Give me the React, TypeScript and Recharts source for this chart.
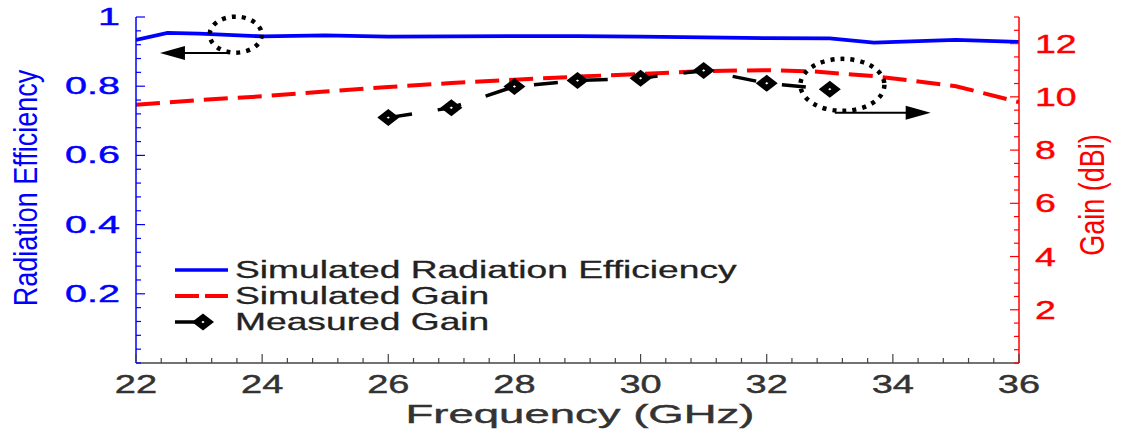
import React from 'react';
import { LineChart, Line, XAxis, YAxis, Legend, ReferenceDot, ReferenceLine } from 'recharts';

// tick labels
const FREQ_TICKS = [22, 24, 26, 28, 30, 32, 34, 36];
const EFF_TICKS = [0.2, 0.4, 0.6, 0.8, 1];
const GAIN_TICKS = [2, 4, 6, 8, 10, 12];

// simulated radiation efficiency (left axis)
const effFreq = [22, 22.5, 23, 24, 25, 26, 27, 28, 29, 30, 31, 32, 33, 33.7, 35, 36];
const effValues = [0.934, 0.954, 0.952, 0.944, 0.947, 0.943, 0.944, 0.945, 0.945, 0.943, 0.941, 0.939, 0.938, 0.926, 0.934, 0.928];

// simulated gain, dBi (right axis)
const simFreq = [22, 23, 24, 25, 26, 27, 28, 29, 30, 31, 32, 32.7, 33.7, 35, 36];
const simGain = [9.7, 9.88, 10.02, 10.2, 10.37, 10.52, 10.64, 10.76, 10.86, 10.97, 11.0, 10.96, 10.78, 10.4, 9.8];

// measured gain, dBi (right axis)
const measFreq = [26, 27, 28, 29, 30, 31, 32, 33];
const measGain = [9.22, 9.59, 10.39, 10.61, 10.7, 10.99, 10.51, 10.29];

const SERIES_NAMES = ['Simulated Radiation Efficiency', 'Simulated Gain', 'Measured Gain'];

const BLUE = '#0000FF';
const RED = '#FF0000';
const AXIS = '#444';
const FONT = '"Liberation Sans", Arial, sans-serif';

const effData = effFreq.map((f, i) => ({ f, v: effValues[i] }));
const simData = simFreq.map((f, i) => ({ f, v: simGain[i] }));
const measData = measFreq.map((f, i) => ({ f, v: measGain[i] }));

const steps = (from: number, to: number, step: number) => {
  const out: number[] = [];
  for (let i = 0; from + i * step <= to + 1e-9; i++) out.push(+(from + i * step).toFixed(3));
  return out;
};
const xTicksAll = steps(22, 36, 0.4);
const effTicksAll = steps(0, 1, 0.04);
const gainTicksAll = steps(0, 13, 0.5);

const isMajor = (list: number[], v: number) => list.some((t) => Math.abs(t - v) < 1e-6);

const BottomTick = (props: any) => {
  const { x, y, payload } = props;
  const major = isMajor(FREQ_TICKS, payload.value);
  return (
    <g>
      <line x1={x} x2={x} y1={y} y2={y - (major ? 9 : 5)} stroke={AXIS} strokeWidth={1.2} />
      {major && (
        <text
          transform={`translate(${x},${y + 30}) scale(1.52,1)`}
          textAnchor="middle"
          fontSize={25}
          fontFamily={FONT}
          fill="#333"
          stroke="#333"
          strokeWidth={0.4}
        >
          {payload.value}
        </text>
      )}
    </g>
  );
};

const TopTick = (props: any) => {
  const { x, y, payload } = props;
  const major = isMajor(FREQ_TICKS, payload.value);
  return <line x1={x} x2={x} y1={y} y2={y + (major ? 9 : 5)} stroke={AXIS} strokeWidth={1.2} />;
};

const LeftTick = (props: any) => {
  const { x, y, payload } = props;
  const major = isMajor(EFF_TICKS, payload.value);
  return (
    <g>
      <line x1={x} x2={x + (major ? 9 : 5)} y1={y} y2={y} stroke={BLUE} strokeWidth={1.2} />
      {major && (
        <text
          transform={`translate(${x - 16},${y + 8}) scale(1.72,1)`}
          textAnchor="end"
          fontSize={23}
          fontFamily={FONT}
          fill={BLUE}
          stroke={BLUE}
          strokeWidth={0.4}
        >
          {payload.value}
        </text>
      )}
    </g>
  );
};

const RightTick = (props: any) => {
  const { x, y, payload } = props;
  const major = isMajor(GAIN_TICKS, payload.value);
  return (
    <g>
      <line x1={x} x2={x - (major ? 9 : 5)} y1={y} y2={y} stroke={RED} strokeWidth={1.2} />
      {major && (
        <text
          transform={`translate(${x + 16},${y + 9}) scale(1.5,1)`}
          textAnchor="start"
          fontSize={25}
          fontFamily={FONT}
          fill={RED}
          stroke={RED}
          strokeWidth={0.4}
        >
          {payload.value}
        </text>
      )}
    </g>
  );
};

const Diamond = ({ cx, cy, w = 11, h = 8.5 }: any) => {
  if (cx == null || cy == null) return null;
  return (
    <g>
      <polygon points={`${cx - w},${cy} ${cx},${cy - h} ${cx + w},${cy} ${cx},${cy + h}`} fill="#000" />
      <polygon points={`${cx - 1.6},${cy} ${cx},${cy - 1.2} ${cx + 1.6},${cy} ${cx},${cy + 1.2}`} fill="#fff" />
    </g>
  );
};

const DottedEllipse = (rx: number, ry: number) => (p: any) => (
  <ellipse
    cx={p.cx}
    cy={p.cy}
    rx={rx}
    ry={ry}
    fill="none"
    stroke="#000"
    strokeWidth={4.5}
    strokeDasharray="4 6"
  />
);

const ArrowHead = (dir: number) => (p: any) => (
  <polygon
    points={`${p.cx},${p.cy} ${p.cx - dir * 25},${p.cy - 7} ${p.cx - dir * 25},${p.cy + 7}`}
    fill="#000"
  />
);

const LegendBox = () => (
  <svg width={620} height={90} style={{ display: 'block' }}>
    {SERIES_NAMES.map((name, i) => {
      const y = 15 + i * 26;
      return (
        <g key={name}>
          {i === 0 && <line x1={25} x2={78} y1={y} y2={y} stroke={BLUE} strokeWidth={3.5} />}
          {i === 1 && (
            <line x1={25} x2={78} y1={y} y2={y} stroke={RED} strokeWidth={4} strokeDasharray="24 6" />
          )}
          {i === 2 && (
            <g>
              <line x1={25} x2={53} y1={y} y2={y} stroke="#000" strokeWidth={3.5} />
              <Diamond cx={53} cy={y} />
            </g>
          )}
          <text
            transform={`translate(85,${y + 8}) scale(1.55,1)`}
            fontSize={24}
            fontFamily={FONT}
            fill="#222"
            stroke="#222"
            strokeWidth={0.3}
          >
            {name}
          </text>
        </g>
      );
    })}
  </svg>
);

export default function App() {
  return (
    <div style={{ position: 'absolute', left: 0, top: 0, width: 1128, height: 435, background: '#fff' }}>
      <LineChart width={1128} height={435} margin={{ top: 17, right: 0, bottom: 0, left: 0 }}>
        <XAxis
          dataKey="f"
          type="number"
          domain={[22, 36]}
          ticks={xTicksAll}
          interval={0}
          height={72}
          tickSize={0}
          tickMargin={0}
          tickLine={false}
          axisLine={{ stroke: AXIS, strokeWidth: 1.5 }}
          tick={(p: any) => <BottomTick {...p} />}
          allowDataOverflow
          label={{
            content: () => (
              <text
                transform="translate(580,423) scale(1.82,1)"
                textAnchor="middle"
                fontSize={25}
                fontFamily={FONT}
                fill="#333"
                stroke="#333"
                strokeWidth={0.4}
              >
                Frequency (GHz)
              </text>
            ),
          }}
        />
        <XAxis
          xAxisId="top"
          dataKey="f"
          type="number"
          orientation="top"
          domain={[22, 36]}
          ticks={xTicksAll}
          interval={0}
          height={0}
          tickSize={0}
          tickMargin={0}
          tickLine={false}
          axisLine={{ stroke: AXIS, strokeWidth: 1.5 }}
          tick={(p: any) => <TopTick {...p} />}
          allowDataOverflow
        />
        <YAxis
          yAxisId="left"
          orientation="left"
          width={136}
          domain={[0, 1]}
          ticks={effTicksAll}
          interval={0}
          tickSize={0}
          tickMargin={0}
          tickLine={false}
          axisLine={{ stroke: BLUE, strokeWidth: 1.5 }}
          tick={(p: any) => <LeftTick {...p} />}
          allowDataOverflow
          label={{
            content: () => (
              <text
                transform="translate(37,188) scale(1.2,1) rotate(-90)"
                textAnchor="middle"
                fontSize={27}
                fontFamily={FONT}
                fill={BLUE}
              >
                Radiation Efficiency
              </text>
            ),
          }}
        />
        <YAxis
          yAxisId="right"
          orientation="right"
          width={109}
          domain={[0, 13]}
          ticks={gainTicksAll}
          interval={0}
          tickSize={0}
          tickMargin={0}
          tickLine={false}
          axisLine={{ stroke: RED, strokeWidth: 1.5 }}
          tick={(p: any) => <RightTick {...p} />}
          allowDataOverflow
          label={{
            content: () => (
              <text
                transform="translate(1104,195) scale(1.3,1) rotate(-90)"
                textAnchor="middle"
                fontSize={27}
                fontFamily={FONT}
                fill={RED}
              >
                Gain (dBi)
              </text>
            ),
          }}
        />
        <Line
          yAxisId="left"
          data={effData}
          dataKey="v"
          name={SERIES_NAMES[0]}
          type="linear"
          stroke={BLUE}
          strokeWidth={3.8}
          dot={false}
          isAnimationActive={false}
        />
        <Line
          yAxisId="right"
          data={simData}
          dataKey="v"
          name={SERIES_NAMES[1]}
          type="linear"
          stroke={RED}
          strokeWidth={4}
          strokeDasharray="24 10"
          dot={false}
          isAnimationActive={false}
        />
        <Line
          yAxisId="right"
          data={measData}
          dataKey="v"
          name={SERIES_NAMES[2]}
          type="linear"
          stroke="#000"
          strokeWidth={3.5}
          strokeDasharray="24 26"
          dot={(p: any) => <Diamond key={p.index} cx={p.cx} cy={p.cy} />}
          isAnimationActive={false}
        />

        {/* annotations: circle + arrow pointing to each series' axis */}
        <ReferenceDot yAxisId="left" x={23.58} y={0.949} r={0} shape={DottedEllipse(26, 18)} />
        <ReferenceLine
          yAxisId="left"
          segment={[{ x: 23.49, y: 0.896 }, { x: 22.6, y: 0.896 }]}
          stroke="#000"
          strokeWidth={2}
        />
        <ReferenceDot yAxisId="left" x={22.38} y={0.896} r={0} shape={ArrowHead(-1)} />

        <ReferenceDot yAxisId="right" x={33.2} y={10.45} r={0} shape={DottedEllipse(42, 26)} />
        <ReferenceLine
          yAxisId="right"
          segment={[{ x: 33.08, y: 9.4 }, { x: 34.4, y: 9.4 }]}
          stroke="#000"
          strokeWidth={2}
        />
        <ReferenceDot yAxisId="right" x={34.6} y={9.4} r={0} shape={ArrowHead(1)} />

        <Legend
          layout="horizontal"
          verticalAlign="middle"
          align="center"
          wrapperStyle={{ left: 150, top: 255, width: 620 }}
          content={() => <LegendBox />}
        />
      </LineChart>
    </div>
  );
}
